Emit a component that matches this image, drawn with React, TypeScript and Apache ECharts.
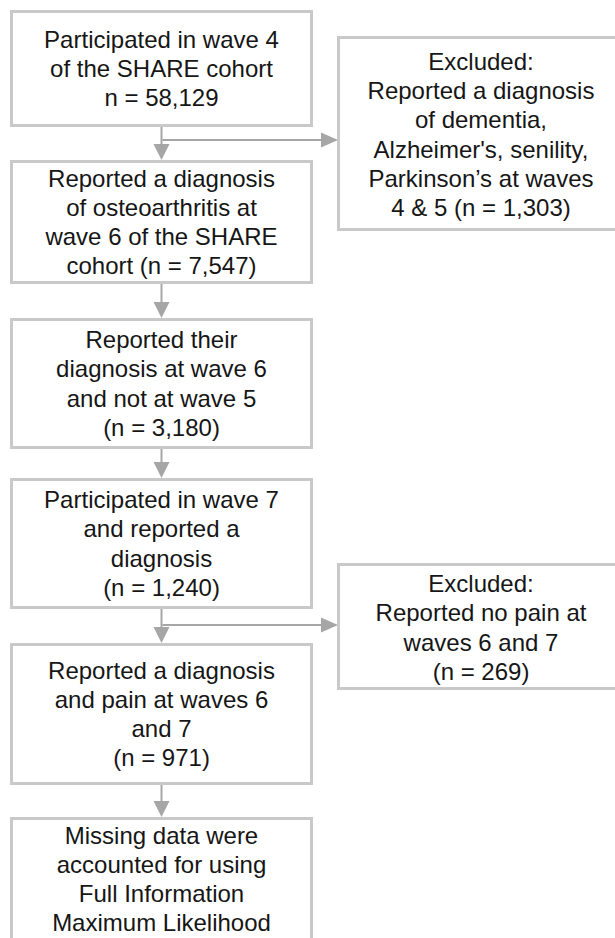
import React, { useEffect, useRef } from "react";
import * as echarts from "echarts";

// ---- content ----
const mainSteps: string[][] = [
  ["Participated in wave 4", "of the SHARE cohort", "n = 58,129"],
  ["Reported a diagnosis", "of osteoarthritis at", "wave 6 of the SHARE", "cohort (n = 7,547)"],
  ["Reported their", "diagnosis at wave 6", "and not at wave 5", "(n = 3,180)"],
  ["Participated in wave 7", "and reported a", "diagnosis", "(n = 1,240)"],
  ["Reported a diagnosis", "and pain at waves 6", "and 7", "(n = 971)"],
  ["Missing data were", "accounted for using", "Full Information", "Maximum Likelihood"],
];
const excludedSteps: string[][] = [
  ["Excluded:", "Reported a diagnosis", "of dementia,", "Alzheimer's, senility,", "Parkinson’s at waves", "4 & 5 (n = 1,303)"],
  ["Excluded:", "Reported no pain at", "waves 6 and 7", "(n = 269)"],
];

// ---- layout (outer edges, px) ----
const mainLeft = 10;
const mainRight = 313;
const mainBoxes: [number, number][] = [
  [10, 127],
  [160, 284],
  [318, 449],
  [478, 609],
  [643, 785],
  [817, 975],
];
const exLeft = 337;
const exRight = 628;
const exBoxes: [number, number][] = [
  [36, 231],
  [563, 690],
];
const branchY = [140, 625];

const BORDER = "#c9c9c9";
const ARROW = "#a6a6a6";
const TEXT = "#161616";
const FONT = "'Liberation Sans', Arial, sans-serif";
const FS = 24;
const LH = 29.3;

function box(x0: number, x1: number, y0: number, y1: number): any {
  const lw = 3;
  return {
    type: "rect",
    shape: { x: x0 + lw / 2, y: y0 + lw / 2, width: x1 - x0 - lw, height: y1 - y0 - lw },
    style: { fill: "#ffffff", stroke: BORDER, lineWidth: lw },
    z: 1,
  };
}

function label(lines: string[], cx: number, cy: number): any {
  return {
    type: "text",
    x: cx,
    y: cy,
    z: 3,
    style: {
      text: lines.join("\n"),
      fill: TEXT,
      fontSize: FS,
      fontFamily: FONT,
      lineHeight: LH,
      align: "center",
      verticalAlign: "middle",
      textAlign: "center",
      textVerticalAlign: "middle",
    },
  };
}

export default function App() {
  const ref = useRef<HTMLDivElement>(null);
  useEffect(() => {
    document.body.style.margin = "0";
    if (!ref.current) return;
    const chart = echarts.init(ref.current, null, { renderer: "svg" });
    const elements: any[] = [];
    const cx = (mainLeft + mainRight) / 2;

    mainSteps.forEach((lines, i) => {
      const [t, b] = mainBoxes[i];
      elements.push(box(mainLeft, mainRight, t, b));
      let cy = (t + b) / 2;
      if (i === mainSteps.length - 1) cy = t + 62;
      elements.push(label(lines, cx, cy));
      if (i < mainSteps.length - 1) {
        const nt = mainBoxes[i + 1][0];
        elements.push({
          type: "line",
          z: 2,
          shape: { x1: cx, y1: b, x2: cx, y2: nt - 12 },
          style: { stroke: ARROW, lineWidth: 2 },
        });
        elements.push({
          type: "polygon",
          z: 2,
          shape: { points: [[cx - 8, nt - 16], [cx + 8, nt - 16], [cx, nt]] },
          style: { fill: ARROW },
        });
      }
    });

    excludedSteps.forEach((lines, j) => {
      const [t, b] = exBoxes[j];
      elements.push(box(exLeft, exRight, t, b));
      const ecx = 481;
      elements.push(label(lines, ecx, (t + b) / 2 + 1));
      const y = branchY[j];
      elements.push({
        type: "line",
        z: 2,
        shape: { x1: cx + 1, y1: y, x2: exLeft - 12, y2: y },
        style: { stroke: ARROW, lineWidth: 2 },
      });
      elements.push({
        type: "polygon",
        z: 2,
        shape: { points: [[exLeft - 16, y - 7.5], [exLeft - 16, y + 7.5], [exLeft + 1, y]] },
        style: { fill: ARROW },
      });
    });

    chart.setOption({
      animation: false,
      backgroundColor: "#ffffff",
      graphic: { elements },
    });
    return () => chart.dispose();
  }, []);
  return <div ref={ref} style={{ width: 615, height: 938 }} />;
}
